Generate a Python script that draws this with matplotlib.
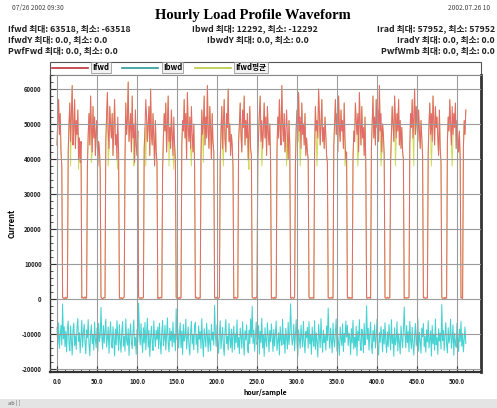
import numpy as np
import matplotlib
matplotlib.use("Agg")
import matplotlib.pyplot as plt
from matplotlib.patches import Rectangle
from matplotlib.lines import Line2D

plt.rcParams['font.family'] = ['Noto Sans CJK KR', 'DejaVu Sans']

# Ifwd (x1000), one list per day: night part then day part
ifwd_days = [
    [44, 51, 57, 47, 53, 42, 38],
    [0.4, 0.2, 0.3, 0.1, 0.5, 0.2, 0.4, 42, 50, 56, 45, 53, 61, 44, 49, 57, 43, 51, 47, 54, 40, 46, 39, 45],
    [0.3, 0.5, 0.2, 0.3, 0.6, 0.2, 0.3, 38, 47, 53, 44, 58, 49, 42, 55, 46, 52, 41, 48, 51, 38, 45, 43, 37],
    [0.5, 0.2, 0.1, 0.3, 0.4, 0.3, 45, 52, 59, 48, 43, 55, 50, 46, 53, 41, 49, 57, 44, 47, 40, 52, 42],
    [0.3, 0.2, 0.4, 0.2, 0.1, 0.4, 0.5, 40, 56, 47, 51, 62, 45, 49, 53, 42, 58, 46, 50, 39, 54, 44, 41, 48],
    [0.5, 0.3, 0.2, 0.4, 0.2, 0.3, 0.4, 43, 49, 57, 52, 45, 50, 55, 41, 60, 47, 44, 53, 46, 38, 51, 42, 39],
    [0.2, 0.4, 0.2, 0.5, 0.3, 0.3, 37, 46, 53, 48, 56, 42, 50, 58, 45, 49, 43, 54, 47, 41, 52, 44, 40],
    [0.4, 0.2, 0.3, 0.1, 0.5, 0.2, 0.4, 44, 51, 48, 57, 46, 53, 40, 59, 49, 45, 52, 43, 55, 47, 42, 50, 38],
    [0.3, 0.5, 0.2, 0.3, 0.1, 0.4, 0.3, 41, 54, 47, 50, 58, 44, 52, 46, 61, 48, 43, 55, 49, 40, 53, 45, 42],
    [0.4, 0.2, 0.5, 0.2, 0.3, 0.2, 0.5, 39, 48, 55, 43, 51, 57, 46, 42, 53, 49, 60, 45, 50, 41, 47, 44, 38],
    [0.2, 0.3, 0.5, 0.2, 0.3, 0.4, 45, 50, 56, 47, 42, 54, 49, 58, 44, 51, 46, 53, 40, 48, 55, 43, 41],
    [0.5, 0.3, 0.2, 0.4, 0.2, 0.5, 0.3, 40, 47, 53, 58, 45, 51, 43, 49, 56, 46, 52, 41, 55, 48, 44, 50, 39],
    [0.2, 0.4, 0.3, 0.1, 0.5, 0.2, 0.4, 43, 52, 46, 57, 49, 44, 61, 50, 45, 53, 42, 48, 54, 47, 40, 51, 44],
    [0.3, 0.2, 0.5, 0.3, 0.2, 0.4, 38, 49, 54, 45, 59, 48, 52, 43, 56, 47, 50, 44, 53, 41, 46, 42, 40],
    [0.5, 0.2, 0.4, 0.2, 0.3, 0.4, 0.2, 42, 55, 48, 51, 46, 60, 53, 44, 50, 57, 45, 49, 43, 52, 47, 41, 39],
    [0.3, 0.4, 0.2, 0.3, 0.5, 0.2, 0.3, 44, 50, 57, 47, 53, 42, 58, 49, 45, 54, 48, 51, 43, 56, 46, 40, 42],
    [0.4, 0.2, 0.5, 0.2, 0.3, 0.4, 0.2, 40, 48, 45, 56, 51, 47, 53, 42, 59, 50, 44, 55, 46, 49, 41, 52, 38],
    [0.3, 0.2, 0.4, 0.3, 0.5, 0.2, 43, 51, 58, 46, 52, 44, 57, 49, 54, 45, 61, 48, 53, 42, 50, 47, 41],
    [0.4, 0.2, 0.3, 0.5, 0.2, 0.4, 0.3, 39, 47, 55, 50, 45, 58, 52, 46, 53, 48, 57, 44, 51, 43, 49, 42, 40],
    [0.2, 0.4, 0.3, 0.2, 0.4, 0.3, 0.4, 44, 53, 49, 57, 46, 52, 60, 47, 55, 50, 45, 54, 48, 43, 51, 46, 41],
    [0.3, 0.5, 0.2, 0.2, 0.4, 0.3, 42, 50, 56, 47, 53, 45, 58, 51, 44, 55, 49, 52, 46, 41, 54, 43, 39],
    [0.4, 0.2, 0.3, 0.1, 0.5, 0.2, 0.3, 45, 52, 48, 57, 50, 44, 55, 47, 53, 49, 56, 43, 51, 46, 42, 48, 40],
    [0.3, 0.4, 0.2, 43, 51, 47, 54],
]

# Ibwd (x1000), same days
ibwd_days = [
    [-8.2, -12.9, -6.8, -14.1, -10.3, -7.5, -13.2],
    [-1.5, -11.4, -7.9, -13.6, -9.2, -15.1, -8.4, -6.3, -12.7, -14.8, -7.7, -11.9, -16.0, -9.0, -6.9, -13.3, -10.5, -14.4, -8.1, -5.6, -12.2, -9.6, -15.4, -10.9],
    [-6.1, -13.8, -9.5, -7.2, -12.4, -15.6, -8.8, -11.1, -5.9, -13.0, -16.2, -9.9, -7.4, -12.8, -10.2, -14.6, -6.6, -11.5, -13.9, -8.3, -15.0, -7.0, -12.1, -10.6],
    [-2.4, -10.8, -14.3, -7.6, -12.6, -9.1, -5.8, -13.7, -11.2, -8.0, -15.5, -9.7, -6.5, -12.9, -14.0, -7.9, -11.6, -16.3, -8.6, -13.1, -6.2, -10.4, -14.7],
    [-7.3, -12.0, -15.2, -9.3, -6.4, -13.5, -10.7, -14.9, -5.7, -11.8, -13.2, -8.5, -16.1, -10.0, -7.1, -12.5, -14.2, -9.4, -6.0, -13.4, -11.0, -15.8, -8.7, -12.3],
    [-1.2, -9.8, -13.1, -7.0, -11.7, -15.3, -8.2, -12.6, -6.7, -14.5, -10.1, -5.5, -13.8, -9.0, -16.4, -11.3, -7.8, -12.2, -14.7, -6.3, -10.9, -13.6, -8.9, -11.5],
    [-8.0, -14.2, -6.9, -12.1, -15.7, -9.6, -6.1, -13.3, -11.4, -7.5, -14.6, -10.3, -5.4, -12.7, -15.1, -8.4, -11.9, -9.2, -13.7, -6.6, -12.4, -10.0, -14.8],
    [-2.8, -11.6, -8.6, -14.0, -10.5, -6.8, -13.9, -9.1, -15.9, -7.3, -12.0, -10.8, -5.8, -14.3, -11.2, -8.0, -13.5, -16.0, -9.7, -6.4, -12.9, -10.2, -14.5, -7.6],
    [-6.7, -13.0, -10.4, -15.4, -7.7, -11.5, -9.3, -14.1, -5.6, -12.3, -16.5, -8.5, -11.0, -13.7, -6.9, -10.6, -15.0, -8.8, -12.6, -14.8, -7.2, -11.8, -9.5, -13.2],
    [-1.8, -10.3, -13.6, -7.4, -12.2, -15.5, -9.8, -6.2, -14.2, -11.1, -8.1, -13.3, -16.2, -9.4, -5.9, -12.8, -10.7, -14.6, -7.0, -11.4, -13.9, -8.6, -15.2, -10.0],
    [-7.8, -14.4, -9.9, -12.5, -6.0, -13.8, -11.0, -15.6, -8.3, -10.5, -14.1, -6.5, -12.0, -16.1, -9.1, -11.7, -7.4, -13.4, -15.3, -8.9, -12.8, -5.7, -10.9],
    [-2.1, -12.7, -8.9, -14.9, -10.8, -6.6, -13.0, -11.3, -7.6, -15.7, -9.2, -12.4, -5.5, -14.0, -10.1, -16.4, -8.2, -11.9, -13.6, -6.8, -10.6, -15.1, -9.0, -12.2],
    [-7.1, -11.2, -15.0, -8.7, -13.4, -10.0, -6.3, -14.7, -12.1, -9.6, -16.0, -7.9, -11.5, -13.2, -5.8, -12.9, -10.4, -15.5, -8.4, -11.0, -14.3, -6.7, -13.0, -9.8],
    [-1.4, -9.5, -13.2, -11.4, -7.2, -14.8, -10.2, -5.9, -12.6, -16.3, -8.8, -11.6, -14.1, -7.5, -10.9, -13.7, -6.4, -12.3, -15.4, -9.3, -11.1, -8.1, -14.0],
    [-6.5, -12.8, -10.1, -15.8, -8.0, -11.7, -13.5, -6.2, -14.4, -9.7, -12.2, -16.6, -7.3, -10.8, -13.9, -5.6, -11.3, -15.2, -8.9, -12.5, -10.4, -14.6, -7.7, -11.9],
    [-2.6, -10.7, -14.1, -8.3, -12.0, -15.4, -6.9, -11.8, -13.7, -9.4, -5.7, -14.9, -10.5, -12.7, -16.1, -8.0, -11.2, -13.3, -7.1, -15.0, -9.8, -12.4, -6.3, -10.9],
    [-7.5, -13.3, -9.7, -11.0, -15.9, -8.5, -12.6, -6.1, -14.3, -10.9, -13.8, -7.8, -16.2, -9.2, -11.9, -5.9, -12.9, -14.7, -8.6, -10.3, -15.3, -7.0, -13.1, -11.4],
    [-1.9, -11.5, -8.4, -14.6, -10.0, -6.6, -13.2, -15.6, -9.0, -12.2, -7.4, -14.0, -11.1, -5.8, -13.8, -16.0, -9.6, -12.4, -7.9, -10.7, -15.1, -8.7, -12.9],
    [-6.8, -12.1, -15.3, -9.4, -13.6, -7.3, -11.0, -14.5, -5.9, -12.7, -10.3, -16.4, -8.2, -13.1, -11.8, -6.5, -14.8, -9.9, -12.3, -15.7, -7.7, -11.2, -13.9, -9.0],
    [-2.3, -10.1, -13.9, -7.6, -12.5, -9.2, -15.1, -6.4, -11.7, -14.2, -8.1, -12.9, -16.0, -10.6, -7.0, -13.4, -11.3, -5.6, -14.9, -9.5, -12.0, -15.5, -8.3, -10.8],
    [-7.0, -13.7, -10.6, -15.2, -8.8, -12.3, -6.2, -14.0, -11.5, -9.1, -16.3, -7.6, -12.8, -10.0, -14.6, -5.7, -13.1, -11.0, -15.8, -8.5, -12.0, -9.7, -14.3],
    [-1.6, -11.9, -9.0, -14.7, -10.4, -6.7, -13.0, -15.4, -8.2, -12.6, -10.9, -5.8, -14.1, -11.6, -7.4, -16.1, -9.8, -12.5, -13.8, -6.9, -11.1, -15.0, -8.6, -12.2],
    [-6.4, -13.5, -9.9, -15.1, -11.3, -8.0, -12.7],
]

# Ifwd average (x1000), mostly hidden under Ifwd
avg_days = [
    [44, 51, 57, 47, 53, 42, 38],
    [0.4, 0.2, 0.3, 0.1, 0.5, 0.2, 0.4, 42, 50, 56, 38, 53, 61, 44, 49, 57, 43, 51, 47, 54, 37, 46, 39, 45],
    [0.3, 0.5, 0.2, 0.3, 0.6, 0.2, 0.3, 38, 47, 53, 44, 58, 39, 42, 55, 46, 52, 41, 48, 51, 38, 45, 43, 37],
    [0.5, 0.2, 0.1, 0.3, 0.4, 0.3, 45, 52, 59, 38, 43, 55, 50, 46, 53, 41, 49, 57, 44, 47, 40, 37, 42],
    [0.3, 0.2, 0.4, 0.2, 0.1, 0.4, 0.5, 40, 56, 47, 51, 62, 45, 49, 53, 42, 58, 46, 38, 39, 54, 44, 41, 48],
    [0.5, 0.3, 0.2, 0.4, 0.2, 0.3, 0.4, 43, 49, 38, 52, 45, 50, 55, 41, 60, 47, 44, 53, 46, 38, 51, 42, 39],
    [0.2, 0.4, 0.2, 0.5, 0.3, 0.3, 37, 46, 53, 48, 56, 42, 50, 58, 38, 49, 43, 54, 47, 41, 37, 44, 40],
    [0.4, 0.2, 0.3, 0.1, 0.5, 0.2, 0.4, 44, 51, 48, 57, 46, 53, 40, 59, 49, 45, 52, 43, 38, 47, 42, 50, 38],
    [0.3, 0.5, 0.2, 0.3, 0.1, 0.4, 0.3, 41, 54, 47, 39, 58, 44, 52, 46, 61, 48, 43, 55, 49, 40, 53, 45, 42],
    [0.4, 0.2, 0.5, 0.2, 0.3, 0.2, 0.5, 39, 48, 55, 43, 38, 57, 46, 42, 53, 49, 60, 45, 50, 41, 47, 44, 38],
    [0.2, 0.3, 0.5, 0.2, 0.3, 0.4, 45, 50, 56, 47, 42, 54, 49, 58, 44, 51, 46, 53, 40, 37, 55, 43, 41],
    [0.5, 0.3, 0.2, 0.4, 0.2, 0.5, 0.3, 40, 47, 53, 58, 45, 38, 43, 49, 56, 46, 52, 41, 55, 48, 44, 50, 39],
    [0.2, 0.4, 0.3, 0.1, 0.5, 0.2, 0.4, 43, 52, 46, 57, 49, 44, 61, 50, 45, 53, 42, 48, 38, 47, 40, 51, 44],
    [0.3, 0.2, 0.5, 0.3, 0.2, 0.4, 38, 49, 54, 45, 59, 48, 38, 43, 56, 47, 50, 44, 53, 41, 46, 42, 40],
    [0.5, 0.2, 0.4, 0.2, 0.3, 0.4, 0.2, 42, 55, 48, 38, 46, 60, 53, 44, 50, 57, 45, 49, 43, 52, 47, 41, 39],
    [0.3, 0.4, 0.2, 0.3, 0.5, 0.2, 0.3, 44, 50, 57, 47, 53, 42, 58, 49, 45, 54, 48, 51, 43, 56, 38, 40, 42],
    [0.4, 0.2, 0.5, 0.2, 0.3, 0.4, 0.2, 40, 48, 45, 56, 51, 47, 38, 42, 59, 50, 44, 55, 46, 49, 41, 52, 38],
    [0.3, 0.2, 0.4, 0.3, 0.5, 0.2, 43, 51, 58, 46, 52, 44, 57, 49, 54, 45, 61, 48, 38, 42, 50, 47, 41],
    [0.4, 0.2, 0.3, 0.5, 0.2, 0.4, 0.3, 39, 47, 55, 50, 45, 58, 38, 46, 53, 48, 57, 44, 51, 43, 49, 42, 40],
    [0.2, 0.4, 0.3, 0.2, 0.4, 0.3, 0.4, 44, 53, 49, 57, 46, 38, 60, 47, 55, 50, 45, 54, 48, 43, 51, 46, 41],
    [0.3, 0.5, 0.2, 0.2, 0.4, 0.3, 42, 50, 56, 47, 38, 45, 58, 51, 44, 55, 49, 52, 46, 41, 54, 43, 39],
    [0.4, 0.2, 0.3, 0.1, 0.5, 0.2, 0.3, 45, 52, 48, 57, 50, 44, 38, 47, 53, 49, 56, 43, 51, 46, 42, 48, 40],
    [0.3, 0.4, 0.2, 43, 51, 47, 54],
]

ifwd = np.concatenate([np.array(d, float) for d in ifwd_days]) * 1000
ibwd = np.concatenate([np.array(d, float) for d in ibwd_days]) * 1000
avg = np.concatenate([np.array(d, float) for d in avg_days]) * 1000

W, H = 497, 408
fig = plt.figure(figsize=(W / 100, H / 100), dpi=100)
fig.patch.set_facecolor('white')

# plot area in pixels: x 50..481, y 75..372
ax = fig.add_axes([50 / W, (H - 372) / H, 431 / W, 297 / H])

ax.plot(np.arange(len(avg)), avg, color='#cfdc58', lw=0.7, zorder=2.0)
ax.plot(np.arange(len(ifwd)), ifwd, color='#e36b6b', lw=0.75, zorder=2.1)
ax.plot(np.arange(len(ibwd)), ibwd, color='#45d2d2', lw=0.75, zorder=2.2)

ax.set_xlim(-8.75, 530)
ax.set_ylim(-20857, 64000)

ax.set_xticks(np.arange(0, 501, 50))
ax.set_xticks(np.arange(0, 531, 10), minor=True)
ax.set_xticklabels([f"{v:.1f}" for v in np.arange(0, 501, 50)])
ax.set_yticks(np.arange(-20000, 60001, 10000))
ax.set_yticks(np.arange(-20000, 64001, 2000), minor=True)
ax.set_yticklabels([f"{v:d}" for v in np.arange(-20000, 60001, 10000)])

ax.tick_params(which='both', direction='in', colors='#333333', labelsize=4.3)
ax.tick_params(which='major', length=4, width=0.8)
ax.tick_params(which='minor', length=2.5, width=0.6)
for lab in ax.get_xticklabels() + ax.get_yticklabels():
    lab.set_fontweight('bold')
    lab.set_color('#222222')
ax.tick_params(axis='x', pad=4)
ax.tick_params(axis='y', pad=6)

# grid is drawn over the curves, as in the original
ax.set_axisbelow(False)
ax.grid(True, which='major', color='#9c9c9c', lw=0.8)

ax.spines['left'].set_linewidth(1.0)
ax.spines['bottom'].set_linewidth(1.6)
ax.spines['right'].set_linewidth(2.0)
ax.spines['top'].set_linewidth(0.8)
ax.spines['top'].set_color('#888888')
for s in ['left', 'bottom', 'right']:
    ax.spines[s].set_color('#333333')

# legend strip above plot
fig.patches.append(Rectangle((50 / W, (H - 75) / H), 431 / W, 13 / H,
                             transform=fig.transFigure, facecolor='white',
                             edgecolor='#555555', lw=0.8, zorder=-1))
handles = [Line2D([], [], color='#c0303a', lw=1.2),
           Line2D([], [], color='#2a9a9a', lw=1.2),
           Line2D([], [], color='#b8c840', lw=1.2)]
leg = ax.legend(handles, ['Ifwd', 'Ibwd', 'Ifwd평균'], loc='lower left',
                bbox_to_anchor=(0.0, 1.003), ncol=3, frameon=False,
                fontsize=5.5, handlelength=4.7, handletextpad=0.6,
                columnspacing=1.7, borderaxespad=0.1, borderpad=0.15)
for t in leg.get_texts():
    t.set_fontweight('bold')
    t.set_bbox(dict(facecolor='#f2f2f2', edgecolor='#888888', lw=0.5, pad=0.8))

# header
fig.text(253 / W, 1 - 15 / H, 'Hourly Load Profile Waveform', ha='center', va='center',
         fontsize=10.5, fontweight='bold', family='Liberation Serif')
fig.text(12 / W, 1 - 8 / H, '07/26 2002 09:30', fontsize=4.8, va='center', color='#444444')
fig.text(490 / W, 1 - 8 / H, '2002.07.26 10', fontsize=4.8, va='center', ha='right', color='#444444')

hdr_kw = dict(fontsize=6.3, fontweight='bold', va='center', color='#222222')
fig.text(8 / W, 1 - 29 / H, 'Ifwd 최대: 63518, 최소: -63518', **hdr_kw)
fig.text(8 / W, 1 - 40 / H, 'IfwdY 최대: 0.0, 최소: 0.0', **hdr_kw)
fig.text(8 / W, 1 - 51 / H, 'PwfFwd 최대: 0.0, 최소: 0.0', **hdr_kw)
fig.text(255 / W, 1 - 29 / H, 'Ibwd 최대: 12292, 최소: -12292', ha='center', **hdr_kw)
fig.text(258 / W, 1 - 40 / H, 'IbwdY 최대: 0.0, 최소: 0.0', ha='center', **hdr_kw)
fig.text(495 / W, 1 - 29 / H, 'Irad 최대: 57952, 최소: 57952', ha='right', **hdr_kw)
fig.text(495 / W, 1 - 40 / H, 'IradY 최대: 0.0, 최소: 0.0', ha='right', **hdr_kw)
fig.text(495 / W, 1 - 51 / H, 'PwfWmb 최대: 0.0, 최소: 0.0', ha='right', **hdr_kw)

# axis labels
fig.text(12 / W, 1 - 223 / H, 'Current', rotation=90, ha='center', va='center',
         fontsize=5.5, fontweight='bold')
fig.text(265 / W, 1 - 393 / H, 'hour/sample', ha='center', va='center',
         fontsize=5, fontweight='bold')

# status bar at the bottom
fig.patches.append(Rectangle((0, 0), 1, 9 / H, transform=fig.transFigure,
                             facecolor='#e4e4e4', edgecolor='none', zorder=-1))
fig.text(8 / W, 4.5 / H, 'ab | ¦', fontsize=4, va='center', color='#555555')

fig.savefig('out.png', dpi=100)
